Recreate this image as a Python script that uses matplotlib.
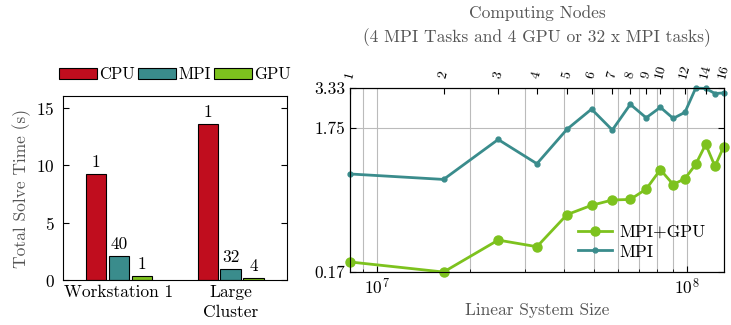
import matplotlib
matplotlib.use("Agg")
import matplotlib.pyplot as plt
import numpy as np
from matplotlib.ticker import FixedLocator, NullFormatter, LogLocator

# Computer Modern look (cmr10 ships with matplotlib)
plt.rcParams['font.family'] = 'serif'
plt.rcParams['font.serif'] = ['cmr10', 'DejaVu Serif']
plt.rcParams['mathtext.fontset'] = 'cm'
plt.rcParams['axes.formatter.use_mathtext'] = True
plt.rcParams['font.size'] = 12.5

# Left chart data: total solve time per machine
machines = ["Workstation 1", "Large\nCluster"]
cpu_time = [9.2, 13.6]
mpi_time = [2.06, 0.93]
gpu_time = [0.38, 0.17]
cpu_count = ["1", "1"]
mpi_count = ["40", "32"]
gpu_count = ["1", "4"]

# Right chart data: scaling runs
nodes = [1, 2, 3, 4, 5, 6, 7, 8, 9, 10, 11, 12, 13, 14, 15, 16]
system_size = [8.2e6, 1.64e7, 2.46e7, 3.28e7, 4.1e7, 4.92e7, 5.74e7, 6.56e7,
               7.38e7, 8.2e7, 9.02e7, 9.84e7, 1.066e8, 1.148e8, 1.23e8, 1.312e8]
mpi_run = [0.83, 0.76, 1.45, 0.98, 1.71, 2.37, 1.69, 2.56,
           2.06, 2.44, 2.04, 2.25, 3.33, 3.31, 3.05, 3.08]
mpi_gpu_run = [0.20, 0.17, 0.285, 0.256, 0.43, 0.50, 0.545, 0.55,
               0.65, 0.89, 0.70, 0.77, 0.97, 1.34, 0.94, 1.29]
node_ticks = [1, 2, 3, 4, 5, 6, 7, 8, 9, 10, 12, 14, 16]
time_ticks = [0.17, 1.75, 3.33]

red = "#C00D1E"
teal = "#3A8C8C"
green = "#7DC21E"
label_grey = "#555555"

fig = plt.figure(figsize=(7.31, 3.25), dpi=100)

# ---------------- left: bar chart ----------------
ax1 = fig.add_axes([0.0862, 0.138, 0.306, 0.566])
x = np.arange(len(machines))
width = 0.185
groups = [(cpu_time, cpu_count, red, "CPU", -0.205),
          (mpi_time, mpi_count, teal, "MPI", 0.0),
          (gpu_time, gpu_count, green, "GPU", 0.205)]
for vals, counts, col, name, off in groups:
    bars = ax1.bar(x + off, vals, width, color=col, edgecolor="black",
                   linewidth=0.8, label=name)
    # number of processes above each bar
    for b, c in zip(bars, counts):
        ax1.text(b.get_x() + b.get_width() / 2, b.get_height() + 0.35, c,
                 ha="center", va="bottom")

ax1.set_xlim(-0.5, 1.5)
ax1.set_ylim(0, 16)
ax1.set_yticks([0, 5, 10, 15])
ax1.set_xticks(x)
ax1.set_xticklabels(machines, linespacing=1.4)
ax1.tick_params(axis="x", length=0, pad=3)
ax1.tick_params(axis="y", direction="in", right=True, length=4, pad=6)
ax1.set_ylabel("Total Solve Time (s)", color=label_grey)
ax1.legend(loc="lower center", bbox_to_anchor=(0.5, 1.04), ncol=3,
           frameon=False, handlelength=2.3, handleheight=0.7,
           handletextpad=0.15, columnspacing=0.15, borderaxespad=0,
           fontsize=12)

# ---------------- right: scaling plot ----------------
ax2 = fig.add_axes([0.479, 0.163, 0.511, 0.566])
ax2.plot(system_size, mpi_gpu_run, "-o", color=green, lw=2.0, ms=6.5,
         label="MPI+GPU", clip_on=False, zorder=4)
ax2.plot(system_size, mpi_run, "-o", color=teal, lw=2.0, ms=3.5,
         label="MPI", clip_on=False, zorder=4)
ax2.set_xscale("log")
ax2.set_yscale("log")
ax2.set_xlim(system_size[0], system_size[-1])
ax2.set_ylim(time_ticks[0], time_ticks[-1])

ax2.yaxis.set_major_locator(FixedLocator(time_ticks))
ax2.yaxis.set_minor_locator(FixedLocator([]))
ax2.set_yticklabels([str(t) for t in time_ticks])
ax2.xaxis.set_minor_locator(LogLocator(base=10, subs=np.arange(2, 10)))
ax2.xaxis.set_minor_formatter(NullFormatter())
ax2.grid(True, which="both", axis="x", color="#BBBBBB", lw=0.8)
ax2.grid(True, which="major", axis="y", color="#BBBBBB", lw=0.8)
ax2.tick_params(which="both", direction="in", right=True)
ax2.tick_params(which="major", length=4)
ax2.tick_params(which="minor", length=2)
ax2.set_xlabel("Linear System Size", color=label_grey, labelpad=4)

# top axis: number of nodes
top = ax2.twiny()
top.set_xscale("log")
top.set_xlim(nodes[0], nodes[-1])
top.xaxis.set_major_locator(FixedLocator(node_ticks))
top.xaxis.set_minor_locator(FixedLocator([]))
top.set_xticklabels([str(n) for n in node_ticks], rotation=75,
                    fontsize=10, style="italic")
top.tick_params(axis="x", direction="in", length=4, pad=6)
top.set_xlabel("Computing Nodes\n(4 MPI Tasks and 4 GPU or 32 x MPI tasks)",
               color=label_grey, labelpad=15, linespacing=1.5)

ax2.legend(loc="lower right", bbox_to_anchor=(0.97, 0.03), frameon=False,
           handlelength=2.0, handletextpad=0.4, labelspacing=0.25,
           borderaxespad=0)

fig.savefig("out.png", dpi=100)
